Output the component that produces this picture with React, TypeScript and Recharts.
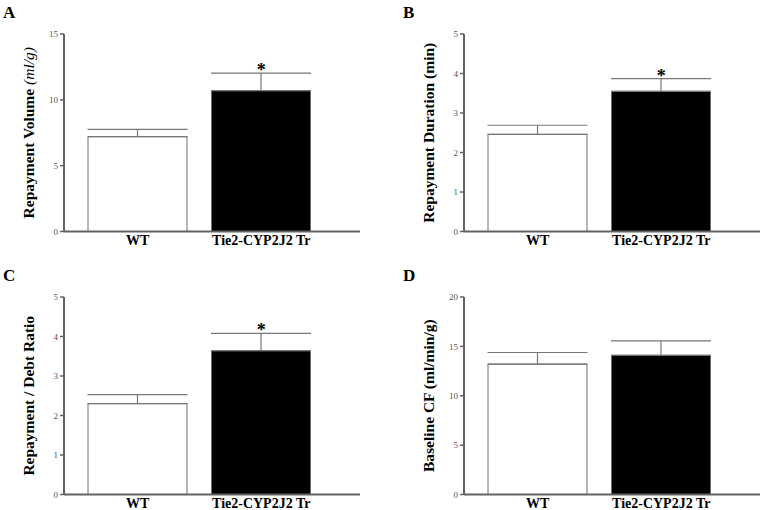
import React from 'react';
import { BarChart, Bar, XAxis, YAxis, Cell, ErrorBar, ReferenceDot } from 'recharts';

const categories = ['WT', 'Tie2-CYP2J2 Tr'];

// A: repayment volume (ml/g)
const volumeMeans = [7.2, 10.7];
const volumeErrors = [0.55, 1.33];
const volumeTicks = [0, 5, 10, 15];

// B: repayment duration (min)
const durationMeans = [2.46, 3.55];
const durationErrors = [0.23, 0.32];
const durationTicks = [0, 1, 2, 3, 4, 5];

// C: repayment / debt ratio
const ratioMeans = [2.3, 3.64];
const ratioErrors = [0.23, 0.44];
const ratioTicks = [0, 1, 2, 3, 4, 5];

// D: baseline coronary flow (ml/min/g)
const flowMeans = [13.2, 14.1];
const flowErrors = [1.18, 1.45];
const flowTicks = [0, 5, 10, 15, 20];

const barFills = ['#ffffff', '#000000'];
const serif = "'Liberation Serif', 'Times New Roman', serif";
const axisColor = '#636363';

interface PanelProps {
  letter: string;
  title: string;
  unit?: string;
  means: number[];
  errors: number[];
  ticks: number[];
  starred: boolean;
  left: number;
  top: number;
}

const YLabel = ({ viewBox, title, unit }: any) => {
  const cx = viewBox.x + viewBox.width - 36;
  const cy = viewBox.y + viewBox.height / 2;
  return (
    <text
      x={cx}
      y={cy}
      transform={`rotate(-90, ${cx}, ${cy})`}
      textAnchor="middle"
      dominantBaseline="central"
      fontFamily={serif}
      fontSize={15.5}
      fontWeight="bold"
      fill="#000"
    >
      {title}
      {unit && (
        <tspan fontStyle="italic" fontWeight="normal">
          {' '}
          {unit}
        </tspan>
      )}
    </text>
  );
};

function Panel({ letter, title, unit, means, errors, ticks, starred, left, top }: PanelProps) {
  const data = categories.map((name, i) => ({
    name,
    mean: means[i],
    err: [0, errors[i]],
  }));
  const max = ticks[ticks.length - 1];

  return (
    <div style={{ position: 'absolute', left, top, width: 362, height: 255 }}>
      <BarChart
        width={362}
        height={255}
        data={data}
        margin={{ top: 34, right: 2, left: 20, bottom: 3.5 }}
        barSize={99}
      >
        <XAxis
          dataKey="name"
          padding={{ left: 12, right: 37 }}
          axisLine={{ stroke: axisColor, strokeWidth: 2 }}
          tickLine={false}
          tickSize={0}
          tickMargin={4}
          height={20}
          tick={{ fontFamily: serif, fontSize: 14, fontWeight: 'bold', fill: '#000' }}
          interval={0}
        />
        <YAxis
          domain={[0, max]}
          ticks={ticks}
          interval={0}
          width={44}
          axisLine={{ stroke: axisColor, strokeWidth: 2 }}
          tickLine={{ stroke: axisColor, strokeWidth: 1.5 }}
          tickSize={4}
          tickMargin={2}
          tick={{ fontFamily: serif, fontSize: 9, fill: '#555' }}
          label={<YLabel title={title} unit={unit} />}
        />
        <Bar dataKey="mean" stroke="#6e6e6e" strokeWidth={1} isAnimationActive={false}>
          {data.map((d, i) => (
            <Cell key={d.name} fill={barFills[i]} />
          ))}
          <ErrorBar dataKey="err" width={50} stroke="#777" strokeWidth={1.2} direction="y" />
        </Bar>
        {starred && (
          <ReferenceDot
            x={categories[1]}
            y={means[1] + errors[1]}
            r={0}
            label={{
              value: '*',
              position: 'top',
              offset: -3,
              fontSize: 18,
              fontWeight: 'bold',
              fontFamily: serif,
              fill: '#000',
            }}
          />
        )}
      </BarChart>
      <div
        style={{
          position: 'absolute',
          left: 3,
          top: 4,
          zIndex: 2,
          fontFamily: serif,
          fontWeight: 'bold',
          fontSize: 17,
          lineHeight: '17px',
        }}
      >
        {letter}
      </div>
    </div>
  );
}

export default function App() {
  return (
    <div
      style={{
        position: 'absolute',
        left: 0,
        top: 0,
        width: 762,
        height: 510,
        overflow: 'hidden',
        background: '#fff',
      }}
    >
      <Panel
        letter="A"
        title="Repayment Volume"
        unit="(ml/g)"
        means={volumeMeans}
        errors={volumeErrors}
        ticks={volumeTicks}
        starred
        left={0}
        top={0}
      />
      <Panel
        letter="B"
        title="Repayment Duration (min)"
        means={durationMeans}
        errors={durationErrors}
        ticks={durationTicks}
        starred
        left={400}
        top={0}
      />
      <Panel
        letter="C"
        title="Repayment / Debt Ratio"
        means={ratioMeans}
        errors={ratioErrors}
        ticks={ratioTicks}
        starred
        left={0}
        top={263}
      />
      <Panel
        letter="D"
        title="Baseline CF (ml/min/g)"
        means={flowMeans}
        errors={flowErrors}
        ticks={flowTicks}
        starred={false}
        left={400}
        top={263}
      />
    </div>
  );
}
